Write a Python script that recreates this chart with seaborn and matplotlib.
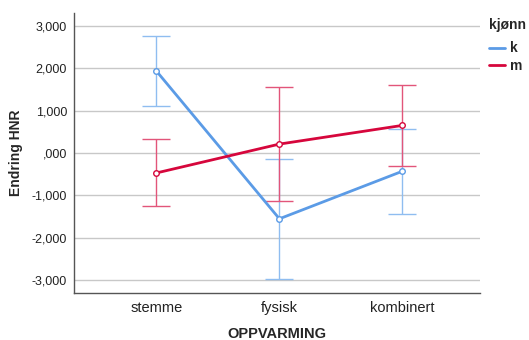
import numpy as np
import pandas as pd
import matplotlib
matplotlib.use("Agg")
import matplotlib.pyplot as plt
from matplotlib.lines import Line2D
import seaborn as sns

# verdier lest av figuren
oppvarming = ["stemme", "fysisk", "kombinert"]
kjonn = ["k", "m"]
mean_k = [1.93, -1.55, -0.43]
low_k = [1.10, -2.96, -1.43]
high_k = [2.75, -0.15, 0.57]
mean_m = [-0.47, 0.21, 0.65]
low_m = [-1.25, -1.12, -0.30]
high_m = [0.32, 1.55, 1.60]
yticks = [-3, -2, -1, 0, 1, 2, 3]

sns.set_style("white")
plt.rcParams["font.family"] = ["Liberation Sans", "DejaVu Sans"]

df = pd.DataFrame({
    "OPPVARMING": oppvarming * 2,
    "kjønn": ["k"] * 3 + ["m"] * 3,
    "Endring HNR": mean_k + mean_m,
})

farger = {"k": "#5b9be6", "m": "#d6063c"}
lyse = {"k": "#8fbdf0", "m": "#e2557a"}

fig = plt.figure(figsize=(5.29, 3.4), dpi=100)
ax = fig.add_axes([0.14, 0.138, 0.767, 0.824])

# feilstolper
for kj, lo, hi in [("k", low_k, high_k), ("m", low_m, high_m)]:
    x = np.arange(len(oppvarming))
    m = np.array(mean_k if kj == "k" else mean_m)
    ax.errorbar(x, m, yerr=[m - np.array(lo), np.array(hi) - m], fmt="none",
                ecolor=lyse[kj], elinewidth=1, capsize=10, capthick=1, zorder=2)

sns.pointplot(data=df, x="OPPVARMING", y="Endring HNR", hue="kjønn",
              palette=farger, errorbar=None, markers="o", markersize=4,
              linewidth=2, markerfacecolor="white", markeredgewidth=1,
              legend=False, ax=ax, zorder=3)

ax.set_xlim(-0.67, 2.63)
ax.set_ylim(-3.3, 3.3)
ax.set_yticks(yticks)
ax.set_yticklabels([(f"{v:.3f}".replace(".", ",") if v != 0 else ",000") for v in yticks])
ax.yaxis.grid(True, color="#c8c8c8", linewidth=1)
ax.set_axisbelow(True)
for s in ["top", "right"]:
    ax.spines[s].set_visible(False)
for s in ["left", "bottom"]:
    ax.spines[s].set_color("#555555")
    ax.spines[s].set_linewidth(1)
ax.tick_params(axis="y", length=0, labelsize=9, colors="#222222", pad=5)
ax.tick_params(axis="x", length=0, labelsize=10.5, colors="#222222", pad=6)
ax.set_xlabel("OPPVARMING", fontsize=10.5, fontweight="bold", labelpad=8)
ax.set_ylabel("Endring HNR", fontsize=10, fontweight="bold", labelpad=6)

handles = [Line2D([], [], color=farger[k], linewidth=2) for k in kjonn]
leg = fig.legend(handles, kjonn, title="kjønn", loc="upper left",
                 bbox_to_anchor=(0.924, 0.948), frameon=False,
                 handlelength=1.2, handletextpad=0.3, labelspacing=0.28,
                 borderpad=0, borderaxespad=0,
                 prop={"size": 10, "weight": "bold"},
                 title_fontproperties={"size": 10, "weight": "bold"})
leg._legend_box.align = "left"
leg._legend_box.sep = 7

fig.savefig("out.png", dpi=100)
